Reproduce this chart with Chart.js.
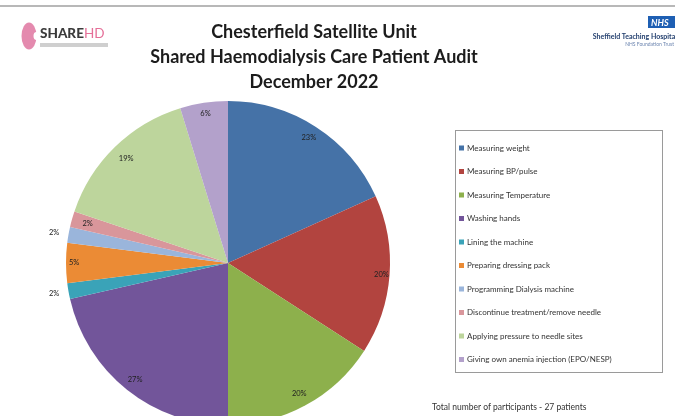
<!DOCTYPE html>
<html lang="en">
<head>
<meta charset="UTF-8">
<title>Shared Haemodialysis Care Patient Audit</title>
<script src="https://cdn.jsdelivr.net/npm/chart.js"></script>
<style>
  body { margin: 0; background: #ffffff; overflow: hidden; }
  #auditChart { display: block; }
</style>
</head>
<body>
<canvas id="auditChart" width="675" height="440"></canvas>
<script>
// audit tasks and the share of patients doing each one (%)
const tasks = [
  'Measuring weight',
  'Measuring BP/pulse',
  'Measuring Temperature',
  'Washing hands',
  'Lining the machine',
  'Preparing dressing pack',
  'Programming Dialysis machine',
  'Discontinue treatment/remove needle',
  'Applying pressure to needle sites',
  'Giving own anemia injection (EPO/NESP)'
];
const percents = [23, 20, 20, 27, 2, 5, 2, 2, 19, 6];
const sliceColors = ['#4572A7', '#B2443F', '#8DB04C', '#72559A', '#3AA3B8', '#EB8B35',
                     '#9AB5DB', '#D9969B', '#BDD59C', '#B3A1CB'];
// label placement: fraction of radius (>1 means outside the pie)
const labelRadius = [0.92, 0.95, 0.92, 0.92, 1.09, 0.95, 1.09, 0.9, 0.9, 0.93];

const titleLines = ['Chesterfield Satellite Unit', 'Shared Haemodialysis Care Patient Audit', 'December 2022'];
const footerText = 'Total number of participants - 27 patients';

const FONT = 'Lato, "Open Sans", sans-serif';

// logos, title, legend box and footer
const pagePlugin = {
  id: 'page',
  beforeDraw(chart) {
    const ctx = chart.ctx;
    ctx.save();
    ctx.fillStyle = '#ffffff';
    ctx.fillRect(0, 0, chart.width, chart.height);

    // top rule
    ctx.fillStyle = '#b8b8b8';
    ctx.fillRect(0, 5, chart.width, 2);

    // SHAREHD logo
    ctx.fillStyle = '#E48AAE';
    ctx.beginPath();
    ctx.ellipse(29, 36, 7.5, 13.5, 0, 0, Math.PI * 2);
    ctx.fill();
    ctx.fillStyle = '#ffffff';
    ctx.beginPath();
    ctx.ellipse(36.5, 36, 3, 4, 0, 0, Math.PI * 2);
    ctx.fill();
    ctx.font = '900 13.5px ' + FONT;
    ctx.textBaseline = 'alphabetic';
    ctx.textAlign = 'left';
    ctx.fillStyle = '#3b3b3b';
    ctx.fillText('SHARE', 40, 38);
    const w = ctx.measureText('SHARE').width;
    ctx.fillStyle = '#E56F98';
    ctx.font = '13.5px ' + FONT;
    ctx.fillText('HD', 40 + w, 38);
    ctx.fillStyle = '#cfcfcf';
    ctx.fillRect(40, 43, 68, 4);

    // NHS trust logo
    ctx.fillStyle = '#1E5FB3';
    ctx.fillRect(648, 16, 27, 12);
    ctx.fillStyle = '#ffffff';
    ctx.font = 'italic bold 9px ' + FONT;
    ctx.fillText('NHS', 651, 26);
    ctx.fillStyle = '#24406F';
    ctx.font = 'bold 7px ' + FONT;
    ctx.textAlign = 'right';
    ctx.fillText('Sheffield Teaching Hospitals', 680, 39);
    ctx.font = '5px ' + FONT;
    ctx.fillStyle = '#6d86b0';
    ctx.fillText('NHS Foundation Trust', 674, 46);

    // title
    ctx.textAlign = 'center';
    ctx.textBaseline = 'middle';
    ctx.fillStyle = '#1c1c1c';
    ctx.font = 'bold 18px ' + FONT;
    titleLines.forEach((line, i) => ctx.fillText(line, 314, 32 + i * 25));

    // legend
    ctx.strokeStyle = '#9a9a9a';
    ctx.lineWidth = 1;
    ctx.strokeRect(455.5, 130.5, 207, 242);
    ctx.font = '8px ' + FONT;
    ctx.textAlign = 'left';
    chart.data.labels.forEach((label, i) => {
      const y = 148 + i * 23.5;
      ctx.fillStyle = sliceColors[i];
      ctx.fillRect(459, y - 2.5, 5, 5);
      ctx.fillStyle = '#333333';
      ctx.fillText(label, 467, y);
    });

    // footer
    ctx.font = '8.5px ' + FONT;
    ctx.fillStyle = '#333333';
    ctx.fillText(footerText, 432, 407);
    ctx.restore();
  },
  afterDatasetsDraw(chart) {
    // percentage labels on the slices
    const ctx = chart.ctx;
    const meta = chart.getDatasetMeta(0);
    ctx.save();
    ctx.font = '7.5px ' + FONT;
    ctx.fillStyle = '#222222';
    ctx.textAlign = 'center';
    ctx.textBaseline = 'middle';
    meta.data.forEach((arc, i) => {
      const p = arc.getProps(['x', 'y', 'startAngle', 'endAngle', 'outerRadius'], true);
      const mid = (p.startAngle + p.endAngle) / 2;
      const r = p.outerRadius * labelRadius[i];
      ctx.fillText(percents[i] + '%', p.x + Math.cos(mid) * r, p.y + Math.sin(mid) * r);
    });
    ctx.restore();
  }
};

new Chart(document.getElementById('auditChart'), {
  type: 'pie',
  data: {
    labels: tasks,
    datasets: [{
      data: percents,
      backgroundColor: sliceColors,
      borderColor: '#ffffff',
      borderWidth: 0
    }]
  },
  options: {
    responsive: false,
    animation: false,
    layout: { padding: { left: 66, right: 285, top: 101, bottom: 15 } },
    plugins: {
      legend: { display: false },
      title: { display: false },
      tooltip: { enabled: false }
    }
  },
  plugins: [pagePlugin]
});
</script>
</body>
</html>
